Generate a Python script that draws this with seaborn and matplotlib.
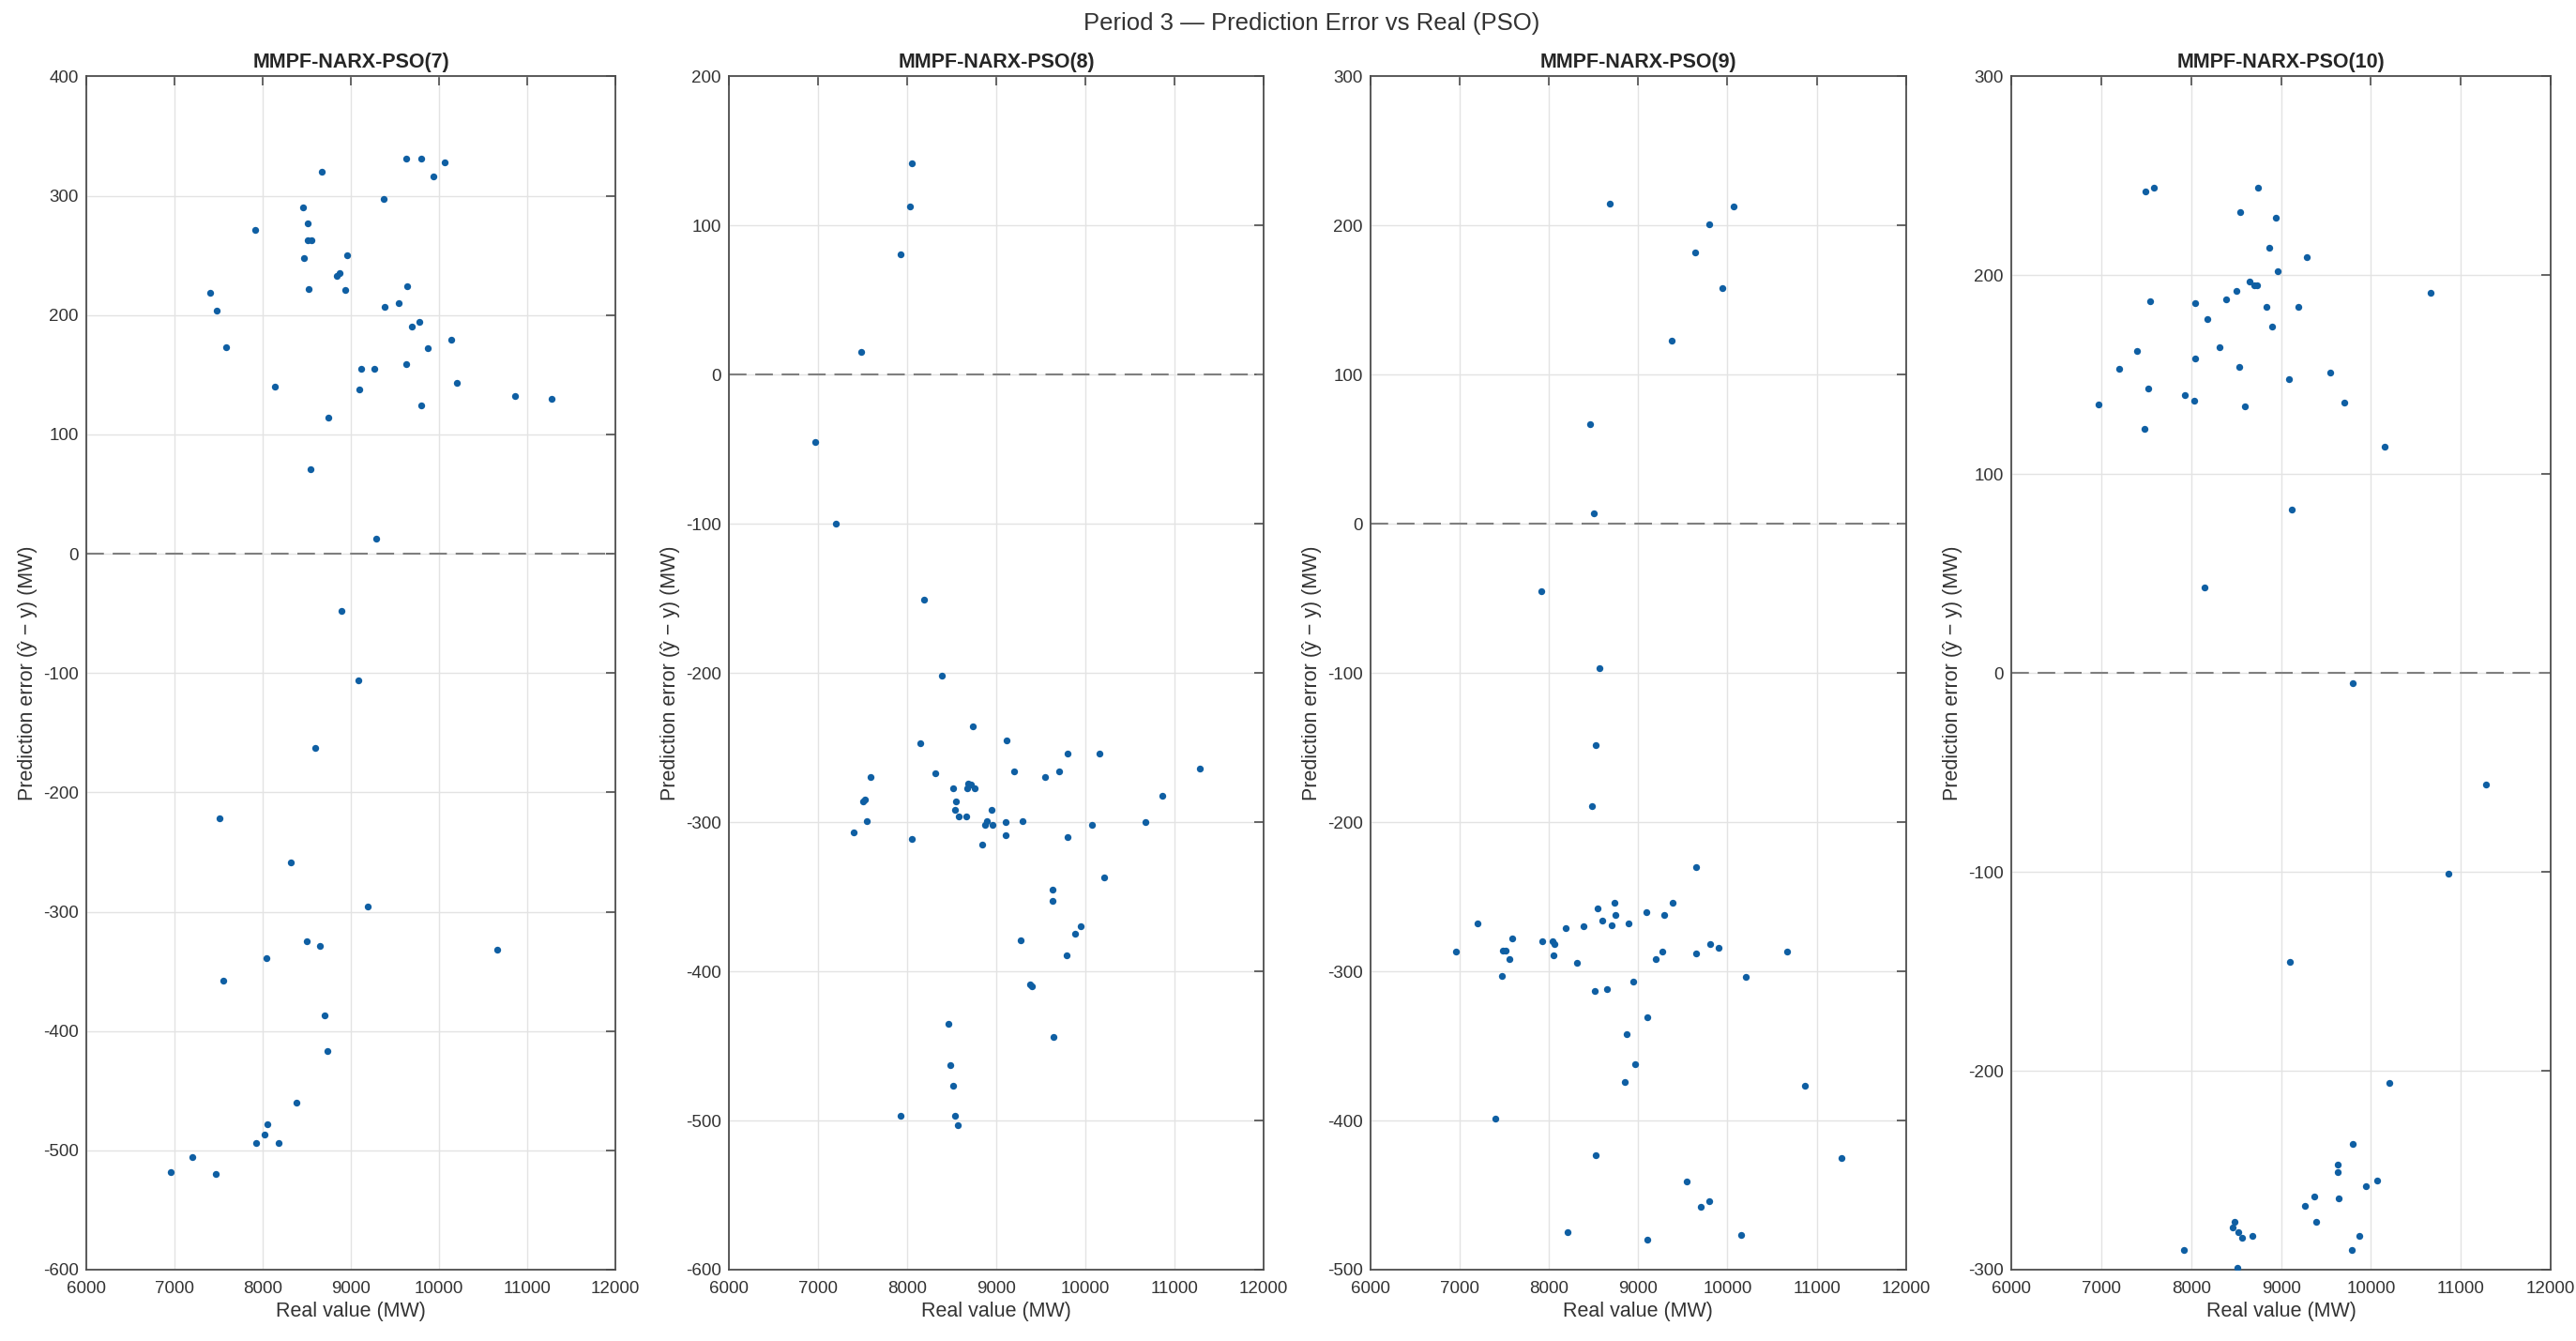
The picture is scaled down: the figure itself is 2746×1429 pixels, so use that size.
import matplotlib
matplotlib.use("Agg")
import matplotlib.pyplot as plt
import seaborn as sns
import pandas as pd

# Period 3 - prediction error vs real value, one panel per model order
real7 = [9625, 9796, 10067, 9938, 8675, 9368, 8461, 7914, 8508, 8508, 8556, 8470, 8955, 8841, 8874,
         8523, 8936, 7401, 7482, 7582, 9639, 9539, 9382, 9781, 9696, 9872, 10143, 9625, 9116, 9268,
         8143, 9097, 10200, 9796, 8741, 10860, 11273, 8542, 9283, 8893,
         9088, 8599, 7511, 8318, 9192, 8504, 8646, 8043, 7549, 10660, 8698, 8732, 8385, 8052, 8024,
         7929, 8185, 7202, 6960, 7473]
err7 = [331, 331, 328, 316, 320, 297, 290, 271, 277, 263, 263, 248, 250, 233, 235,
        222, 221, 219, 204, 173, 224, 210, 207, 194, 190, 172, 179, 159, 155, 155,
        140, 138, 143, 124, 114, 132, 130, 71, 13, -48,
        -106, -163, -222, -259, -296, -325, -329, -339, -358, -332, -387, -417, -460, -478, -487,
        -494, -494, -506, -518, -520]

real8 = [8052, 8028, 7930, 7479, 6962, 7202, 8188,
         8390, 8737, 8146, 9117, 9803, 10155, 7587, 8315, 9202, 9545, 9700, 11282, 8512, 8685,
         8709, 8761, 8671, 7502, 7521, 8549, 8531, 8582, 8657, 8944, 10864, 7549, 7394, 8047,
         8845, 8873, 8897, 8958, 9099, 9291, 9103, 9803, 10075, 10667, 10211, 9629, 9634, 9948,
         9878, 9272, 9789, 9376, 9394, 8460, 9643, 8484, 8512, 7920, 8531, 8563]
err8 = [142, 113, 81, 15, -45, -100, -151,
        -202, -236, -247, -245, -254, -254, -270, -267, -266, -270, -266, -264, -277, -274,
        -275, -277, -277, -286, -285, -286, -292, -296, -296, -292, -282, -299, -307, -311,
        -315, -302, -299, -302, -300, -299, -309, -310, -302, -300, -337, -345, -353, -370,
        -375, -379, -389, -409, -410, -435, -444, -463, -477, -497, -497, -503]

real9 = [8683, 10071, 9795, 9635, 9945, 9377, 8462, 8505, 7918,
         8561, 8523, 8481, 9649, 8730, 9386, 8547, 9096, 8748, 9292, 8598, 8894, 8701, 7196,
         8191, 8387, 7585, 7927, 8036, 8059, 9802, 9901, 6962, 7487, 7515, 7552, 8049, 8317,
         9194, 9274, 9644, 10672, 7473, 10207, 8509, 8649, 8945, 9104, 8870, 8964, 8846, 10864,
         7402, 8528, 11277, 9541, 9799, 9696, 8208, 10156, 9103]
err9 = [215, 213, 201, 182, 158, 123, 67, 7, -45,
        -97, -148, -189, -230, -254, -254, -258, -260, -262, -262, -266, -268, -269, -268,
        -271, -270, -278, -280, -280, -282, -282, -284, -287, -286, -286, -292, -289, -294,
        -292, -287, -288, -287, -303, -304, -313, -312, -307, -331, -342, -362, -374, -377,
        -399, -423, -425, -441, -454, -458, -475, -477, -480]

real10 = [7490, 7584, 8743, 8548, 8944, 8869, 9288, 8963, 8647, 8703, 8731, 8504, 10662, 7547,
          8045, 8390, 8841, 9195, 8180, 8897, 7397, 8316, 8049, 7202, 8534, 9544, 9093, 7518,
          7928, 8031, 9703, 6969, 8594, 7481, 10155, 9116, 8147,
          9801, 11277, 10863, 9097, 10201, 9801, 9633, 9628, 10071, 9940, 9372, 9642, 9270,
          9386, 8478, 8459, 8529, 8562, 8683, 9875, 7919, 9782, 8510]
err10 = [242, 244, 244, 232, 229, 214, 209, 202, 197, 195, 195, 192, 191, 187,
         186, 188, 184, 184, 178, 174, 162, 164, 158, 153, 154, 151, 148, 143,
         140, 137, 136, 135, 134, 123, 114, 82, 43,
         -5, -56, -101, -145, -206, -237, -247, -251, -255, -258, -263, -264, -268,
         -276, -276, -279, -281, -284, -283, -283, -290, -290, -299]

titles = ["MMPF-NARX-PSO(7)", "MMPF-NARX-PSO(8)", "MMPF-NARX-PSO(9)", "MMPF-NARX-PSO(10)"]
ylims = [(-600, 400), (-600, 200), (-500, 300), (-300, 300)]
lefts = [0.0335, 0.283, 0.532, 0.7808]
widths = [0.2054, 0.2076, 0.2079, 0.2094]

sns.set_style("whitegrid")
plt.rcParams["font.family"] = ["Liberation Sans", "DejaVu Sans"]
plt.rcParams["axes.unicode_minus"] = False

fig = plt.figure(figsize=(27.46, 14.29), dpi=100)
fig.suptitle("Period 3 \u2014 Prediction Error vs Real (PSO)", x=0.509, y=0.9825, va="center",
             fontsize=18.5, color="#333333")

for i, (rx, ey) in enumerate([(real7, err7), (real8, err8), (real9, err9), (real10, err10)]):
    df = pd.DataFrame({"real": rx, "err": ey})
    ax = fig.add_axes([lefts[i], 0.0532, widths[i], 0.8898])
    ax.axhline(0, color="#7f7f7f", lw=1.5, dashes=(9, 4.5), zorder=1)
    sns.scatterplot(data=df, x="real", y="err", ax=ax, color="#0f5fa3", s=28,
                    linewidth=0, zorder=3)
    ax.set_xlim(6000, 12000)
    ax.set_ylim(*ylims[i])
    ax.set_xticks(range(6000, 12001, 1000))
    ax.set_yticks(range(ylims[i][0], ylims[i][1] + 1, 100))
    ax.grid(True, color="#e3e3e3", lw=1.0)
    for sp in ax.spines.values():
        sp.set_color("#4d4d4d")
        sp.set_linewidth(1.3)
    ax.tick_params(direction="in", length=7, width=1.2, color="#4d4d4d",
                   top=True, right=True, labelsize=13.5, labelcolor="#333333")
    ax.tick_params(axis="x", pad=9)
    ax.tick_params(axis="y", pad=6)
    ax.set_title(titles[i], fontsize=15.5, fontweight="bold", pad=7)
    ax.set_xlabel("Real value (MW)", fontsize=15.5, color="#333333", labelpad=3)
    ax.set_ylabel("Prediction error (\u0177 \u2212 y) (MW)", fontsize=15.5, color="#333333")

fig.savefig("out.png", dpi=100)
